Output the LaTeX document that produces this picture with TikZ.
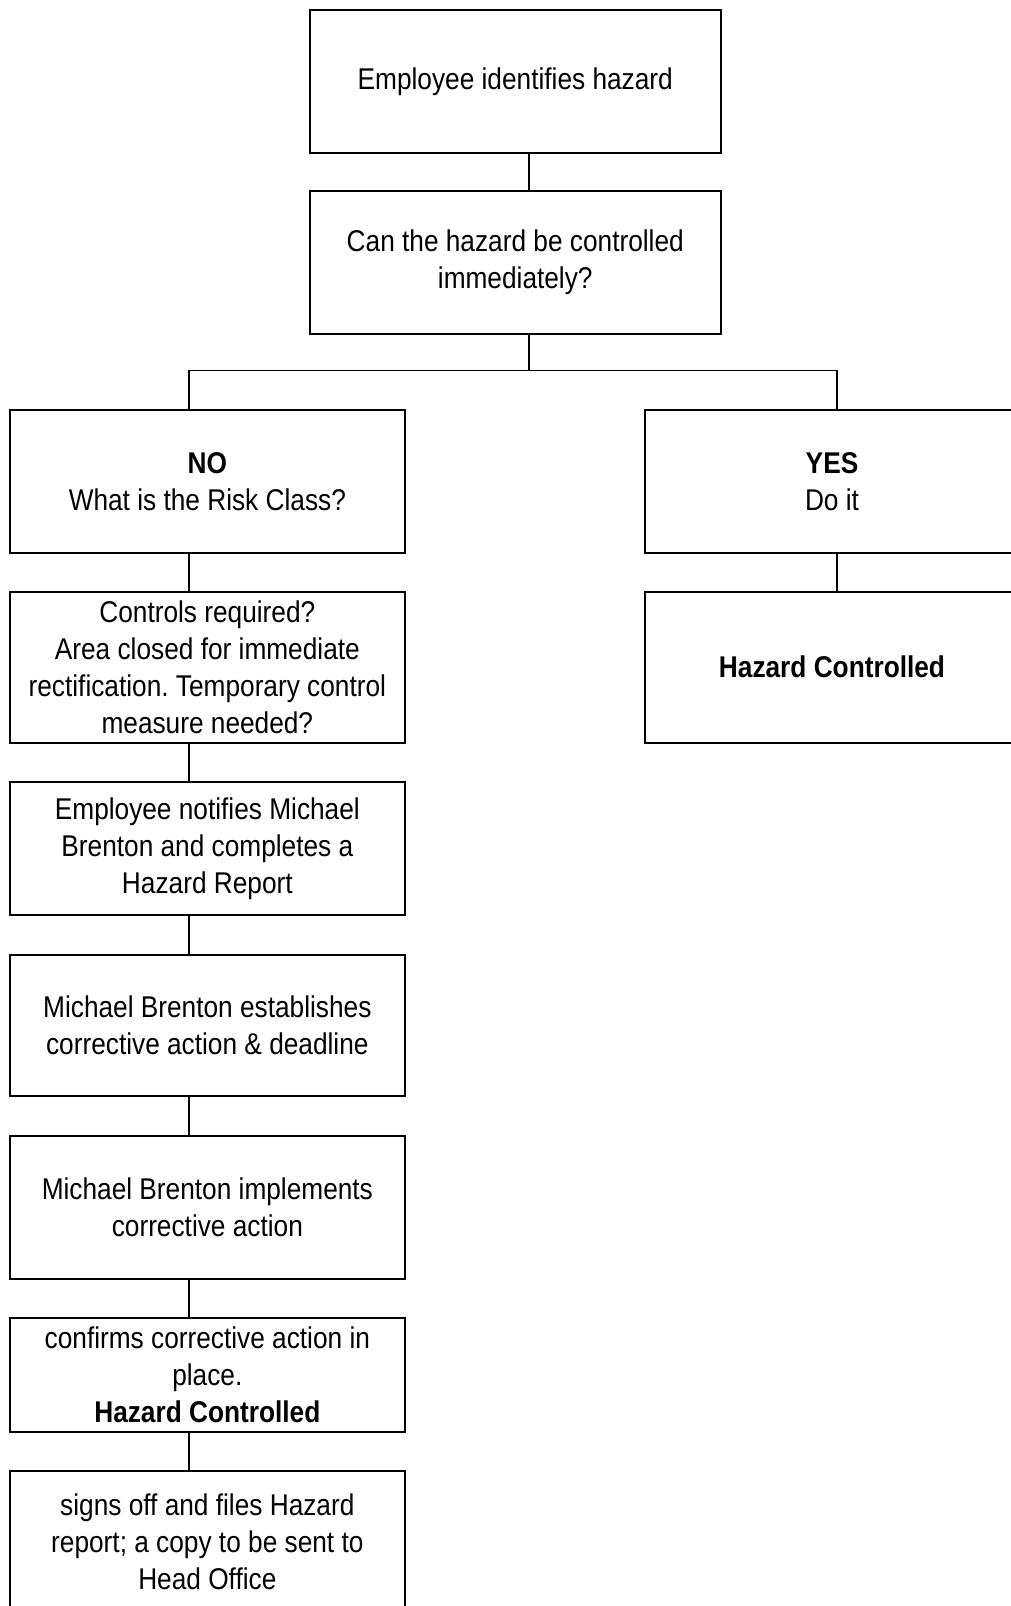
\documentclass[tikz,border=0pt]{standalone}
\usepackage{fontspec}
\setmainfont{Liberation Sans}[FakeStretch=0.875]
\frenchspacing
\begin{document}
\begin{tikzpicture}[x=0.5pt,y=-0.5pt,
  box/.style={draw=black,line width=1pt,inner sep=0pt,align=center,
    font=\fontsize{15}{18.5}\selectfont},
  link/.style={draw=black,line width=0.65pt}]
\useasboundingbox (0,0) rectangle (1011,1606);
\node[box,minimum width=205.75pt,minimum height=71.5pt] (b1) at (515.25,81.5) {Employee identifies hazard};
\node[box,minimum width=205.75pt,minimum height=71.5pt] (b2) at (515.25,262.5) {Can the hazard be controlled\\immediately?};
\node[box,minimum width=197.65pt,minimum height=71.7pt] (no) at (207.35,481.3) {\textbf{NO}\\What is the Risk Class?};
\node[box,minimum width=187pt,minimum height=71.7pt] (yes) at (832,481.3) {\textbf{YES}\\Do it};
\node[box,minimum width=187pt,minimum height=75.6pt] (hc) at (832,667.1) {\textbf{Hazard Controlled}};
\node[box,minimum width=197.65pt,minimum height=75.6pt] (ctrl) at (207.35,667.1) {Controls required?\\Area closed for immediate\\rectification. Temporary control\\measure needed?};
\node[box,minimum width=197.65pt,minimum height=66.8pt] (notif) at (207.35,848.4) {Employee notifies Michael\\Brenton and completes a\\Hazard Report};
\node[box,minimum width=197.65pt,minimum height=70.85pt] (est) at (207.35,1025.55) {Michael Brenton establishes\\corrective action \& deadline};
\node[box,minimum width=197.65pt,minimum height=71.3pt] (impl) at (207.35,1207.3) {Michael Brenton implements\\corrective action};
\node[box,minimum width=197.65pt,minimum height=56.9pt] (conf) at (207.35,1374.7) {confirms corrective action in\\place.\\\textbf{Hazard Controlled}};
\node[box,minimum width=197.65pt,minimum height=71.1pt] (sign) at (207.35,1541.9) {signs off and files Hazard\\report; a copy to be sent to\\Head Office};
\coordinate (cx) at (529,0);
\coordinate (lx) at (189,0);
\coordinate (rx) at (837,0);
\coordinate (split) at (529,370.7);
\draw[link] (b1.south -| cx) -- (b2.north -| cx);
\draw[link] (b2.south -| cx) -- (split);
\draw[link] (no.north -| lx) |- (split) -| (yes.north -| rx);
\draw[link] (yes.south -| rx) -- (hc.north -| rx);
\draw[link] (no.south -| lx) -- (ctrl.north -| lx);
\draw[link] (ctrl.south -| lx) -- (notif.north -| lx);
\draw[link] (notif.south -| lx) -- (est.north -| lx);
\draw[link] (est.south -| lx) -- (impl.north -| lx);
\draw[link] (impl.south -| lx) -- (conf.north -| lx);
\draw[link] (conf.south -| lx) -- (sign.north -| lx);
\end{tikzpicture}
\end{document}
